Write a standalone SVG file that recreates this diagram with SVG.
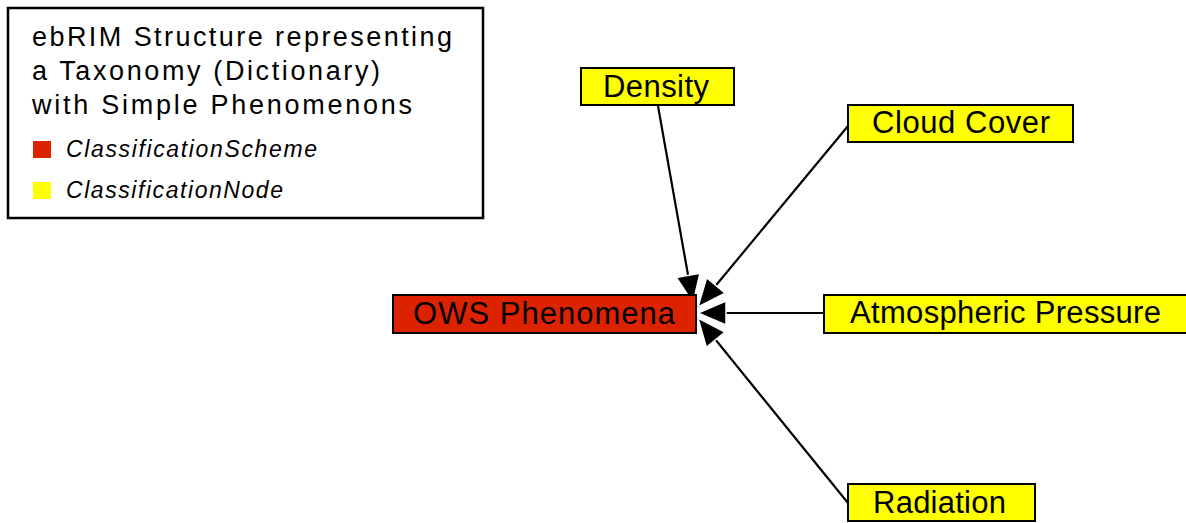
<svg xmlns="http://www.w3.org/2000/svg" width="1186" height="523" viewBox="0 0 1186 523">
  <style>
    .legend-title { font-family: "Liberation Sans", Arial, sans-serif; font-size: 27px; fill: #000; }
    .legend-item { font-family: "Liberation Sans", Arial, sans-serif; font-size: 23px; font-style: italic; fill: #000; }
    .node-text { font-family: "Liberation Sans", Arial, sans-serif; font-size: 31px; fill: #000; }
    .scheme { fill: #DD2200; stroke: #000; stroke-width: 2; }
    .cnode { fill: #FFFF00; stroke: #000; stroke-width: 2; }
    .edge { stroke: #000; stroke-width: 2.2; fill: none; marker-end: url(#arrow); }
  </style>
  <defs>
    <marker id="arrow" markerUnits="userSpaceOnUse" markerWidth="34" markerHeight="30" viewBox="-31 -15 34 30" refX="0" refY="0" orient="auto">
      <path d="M0,0 L-28,-12 L-28,12 Z" fill="#000" stroke="#fff" stroke-width="1.5" stroke-linejoin="miter"/>
    </marker>
  </defs>
  <rect width="1186" height="523" fill="#fff"/>

  <g id="legend">
    <rect x="8" y="8" width="475" height="210" fill="#fff" stroke="#000" stroke-width="2.5"/>
    <text class="legend-title" x="32" y="46" textLength="420" lengthAdjust="spacing">ebRIM Structure representing</text>
    <text class="legend-title" x="32" y="80" textLength="348" lengthAdjust="spacing">a Taxonomy (Dictionary)</text>
    <text class="legend-title" x="32" y="114" textLength="380" lengthAdjust="spacing">with Simple Phenomenons</text>
    <rect x="33" y="141" width="18" height="17" fill="#DD2200"/>
    <text class="legend-item" x="66" y="157" textLength="251" lengthAdjust="spacing">ClassificationScheme</text>
    <rect x="33" y="182" width="18" height="17" fill="#FFFF00"/>
    <text class="legend-item" x="66" y="198" textLength="217" lengthAdjust="spacing">ClassificationNode</text>
  </g>

  <g id="connectors">
    <line class="edge" x1="658" y1="106" x2="693" y2="303"/>
    <line class="edge" x1="848" y1="126" x2="698" y2="307"/>
    <line class="edge" x1="823" y1="313" x2="698" y2="313"/>
    <line class="edge" x1="848" y1="503" x2="698" y2="318"/>
  </g>

  <g id="node-ows-phenomena">
    <rect class="scheme" x="393" y="295" width="303" height="38"/>
    <text class="node-text" x="413" y="324" textLength="262" lengthAdjust="spacing">OWS Phenomena</text>
  </g>
  <g id="node-density">
    <rect class="cnode" x="581" y="68" width="153" height="37"/>
    <text class="node-text" x="603" y="97" textLength="106" lengthAdjust="spacing">Density</text>
  </g>
  <g id="node-cloud-cover">
    <rect class="cnode" x="848" y="105" width="225" height="37"/>
    <text class="node-text" x="872" y="133" textLength="178" lengthAdjust="spacing">Cloud Cover</text>
  </g>
  <g id="node-atmospheric-pressure">
    <rect class="cnode" x="824" y="295" width="372" height="38"/>
    <text class="node-text" x="850" y="323" textLength="311" lengthAdjust="spacing">Atmospheric Pressure</text>
  </g>
  <g id="node-radiation">
    <rect class="cnode" x="848" y="484" width="187" height="37"/>
    <text class="node-text" x="873" y="513" textLength="133" lengthAdjust="spacing">Radiation</text>
  </g>
</svg>
